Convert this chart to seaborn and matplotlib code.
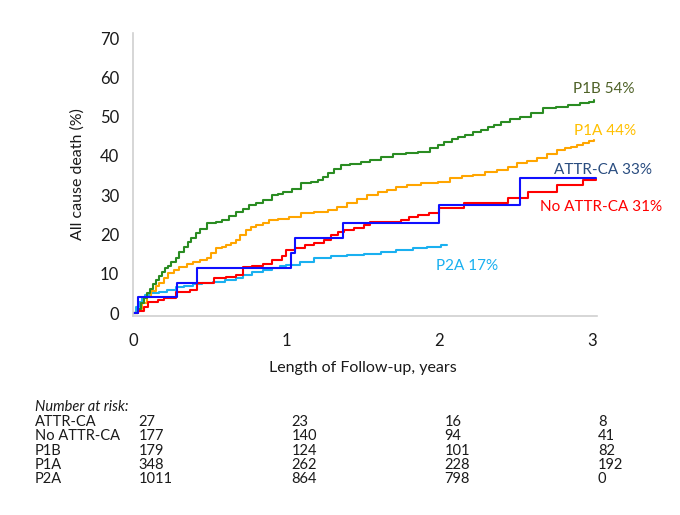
import pandas as pd
import numpy as np
import matplotlib
matplotlib.use("Agg")
import matplotlib.pyplot as plt
import matplotlib.transforms as mtransforms
import seaborn as sns

# cumulative all cause death (%), step times in years
p1b_t = [0, 0.03, 0.05, 0.07, 0.09, 0.11, 0.13, 0.15, 0.17, 0.19, 0.21, 0.23, 0.25, 0.28, 0.30, 0.33,
         0.36, 0.38, 0.41, 0.44, 0.48, 0.54, 0.58, 0.63, 0.67, 0.72, 0.76, 0.80, 0.85, 0.91, 0.95, 0.98,
         1.04, 1.10, 1.16, 1.21, 1.24, 1.27, 1.31, 1.36, 1.42, 1.49, 1.55, 1.62, 1.70, 1.78, 1.86, 1.94,
         1.99, 2.03, 2.08, 2.12, 2.17, 2.22, 2.27, 2.32, 2.36, 2.40, 2.46, 2.53, 2.60, 2.68, 2.76, 2.84,
         2.92, 2.98, 3.01]
p1b_v = [0, 1.0, 2.5, 3.8, 5.0, 6.2, 7.4, 8.4, 9.5, 10.5, 11.5, 12.0, 13.0, 14.0, 15.5, 16.8,
         18.0, 19.2, 20.3, 21.5, 22.9, 23.2, 23.8, 24.8, 25.7, 26.6, 27.5, 28.1, 28.8, 30.0, 30.4, 30.8,
         31.5, 33.0, 33.4, 33.8, 34.7, 35.6, 36.6, 37.7, 38.0, 38.4, 39.0, 39.7, 40.5, 40.8, 41.0, 42.0,
         42.8, 43.5, 44.2, 44.8, 45.4, 46.0, 46.6, 47.3, 48.0, 48.6, 49.3, 49.9, 51.0, 52.2, 52.5, 52.9,
         53.4, 53.8, 54.2]

p1a_t = [0, 0.03, 0.06, 0.09, 0.12, 0.15, 0.17, 0.20, 0.23, 0.27, 0.30, 0.35, 0.39, 0.44, 0.48, 0.51,
         0.54, 0.58, 0.61, 0.64, 0.67, 0.70, 0.74, 0.77, 0.80, 0.85, 0.89, 0.95, 1.02, 1.10, 1.18, 1.27,
         1.33, 1.40, 1.46, 1.53, 1.60, 1.66, 1.72, 1.79, 1.88, 1.99, 2.07, 2.15, 2.22, 2.30, 2.38, 2.45,
         2.51, 2.57, 2.64, 2.70, 2.77, 2.82, 2.86, 2.90, 2.94, 2.98, 3.01]
p1a_v = [0, 1.0, 2.5, 4.0, 5.5, 6.8, 7.6, 9.0, 10.2, 11.0, 11.7, 12.4, 13.0, 13.6, 14.0, 15.2,
         16.5, 16.9, 17.3, 17.9, 18.6, 19.8, 21.1, 21.8, 22.4, 23.0, 23.7, 24.0, 24.5, 25.4, 25.8, 26.2,
         27.0, 28.0, 29.0, 30.0, 30.7, 31.3, 32.0, 32.6, 33.0, 33.3, 34.4, 34.8, 35.1, 35.8, 36.4, 37.3,
         38.2, 38.8, 39.4, 40.5, 41.5, 41.9, 42.2, 42.8, 43.3, 43.7, 44.0]

attr_t = [0, 0.03, 0.29, 0.42, 1.03, 1.06, 1.37, 2.00, 2.53, 3.02]
attr_v = [0, 4.1, 7.6, 11.5, 15.3, 19.1, 22.9, 27.5, 34.3, 34.3]

noattr_t = [0, 0.03, 0.07, 0.10, 0.16, 0.20, 0.28, 0.37, 0.42, 0.53, 0.61, 0.67, 0.72, 0.78, 0.85,
            0.91, 0.97, 1.00, 1.06, 1.12, 1.18, 1.25, 1.29, 1.34, 1.38, 1.44, 1.51, 1.55, 1.75, 1.80,
            1.86, 1.93, 2.00, 2.16, 2.45, 2.58, 2.77, 2.94, 3.02]
noattr_v = [0, 0.5, 1.5, 2.8, 3.3, 3.8, 5.3, 5.8, 7.6, 8.9, 9.2, 9.7, 11.7, 12.0, 12.6,
            13.5, 14.5, 16.0, 16.5, 17.3, 17.8, 18.6, 19.8, 20.6, 21.1, 21.6, 22.4, 23.2, 23.7, 24.4,
            24.9, 25.4, 26.7, 28.0, 29.3, 30.8, 32.6, 33.8, 34.0]

p2a_t = [0, 0.02, 0.04, 0.06, 0.08, 0.12, 0.17, 0.22, 0.28, 0.33, 0.39, 0.45, 0.52, 0.60, 0.67, 0.72,
         0.78, 0.85, 0.91, 0.96, 1.00, 1.09, 1.18, 1.29, 1.40, 1.51, 1.62, 1.72, 1.83, 1.92, 2.01, 2.05]
p2a_v = [0, 1.5, 2.8, 3.8, 4.6, 5.0, 5.3, 5.9, 6.6, 7.0, 7.4, 7.6, 7.9, 8.4, 8.9, 9.6,
         10.4, 11.0, 11.5, 11.9, 12.2, 13.1, 14.0, 14.4, 14.8, 15.1, 15.5, 16.0, 16.5, 16.9, 17.2, 17.3]

groups = ["ATTR-CA", "No ATTR-CA", "P1B", "P1A", "P2A"]
end_labels = ["ATTR-CA 33%", "No ATTR-CA 31%", "P1B 54%", "P1A 44%", "P2A 17%"]
risk_times = [0, 1, 2, 3]
risk_counts = {
    "ATTR-CA": [27, 23, 16, 8],
    "No ATTR-CA": [177, 140, 94, 41],
    "P1B": [179, 124, 101, 82],
    "P1A": [348, 262, 228, 192],
    "P2A": [1011, 864, 798, 0],
}

line_colors = {"ATTR-CA": "#1010ff", "No ATTR-CA": "#ff0000", "P1B": "#2a8c22",
               "P1A": "#ffa500", "P2A": "#1ab0f0"}
text_colors = {"ATTR-CA": "#2a4d80", "No ATTR-CA": "#ff0000", "P1B": "#4f6228",
               "P1A": "#ffc000", "P2A": "#1ab0f0"}
label_pos = {"ATTR-CA": (2.75, 36.4), "No ATTR-CA": (2.66, 27.0), "P1B": (2.87, 57.0),
             "P1A": (2.88, 46.3), "P2A": (1.98, 12.0)}

curves = {"ATTR-CA": (attr_t, attr_v), "No ATTR-CA": (noattr_t, noattr_v),
          "P1B": (p1b_t, p1b_v), "P1A": (p1a_t, p1a_v), "P2A": (p2a_t, p2a_v)}
df = pd.concat([pd.DataFrame({"t": t, "v": v, "group": g}) for g, (t, v) in curves.items()],
               ignore_index=True)

sns.set_theme(style="white")
plt.rcParams["font.family"] = ["Lato", "DejaVu Sans"]

fig = plt.figure(figsize=(6.8, 5.15), dpi=100)
ax = fig.add_axes([0.1956, 0.3864, 0.6824, 0.5495])

for g in ["P2A", "P1A", "P1B", "No ATTR-CA", "ATTR-CA"]:
    sns.lineplot(data=df[df.group == g], x="t", y="v", color=line_colors[g], lw=1.5,
                 drawstyle="steps-post", estimator=None, sort=False, ax=ax)

for g, lab in zip(groups, end_labels):
    x, y = label_pos[g]
    ax.text(x, y, lab, color=text_colors[g], fontsize=11, va="center", ha="left")

ax.set_xlim(0, 3.03)
ax.set_ylim(-0.76, 71.3)
ax.set_xticks([0, 1, 2, 3])
ax.set_yticks(range(0, 71, 10))
ax.tick_params(axis="both", length=0, labelsize=12, colors="#1a1a1a")
ax.tick_params(axis="x", pad=12)
ax.tick_params(axis="y", pad=10)
sns.despine(ax=ax)
for s in ["left", "bottom"]:
    ax.spines[s].set_color("#d0d0d0")
    ax.spines[s].set_linewidth(1.2)

ax.set_xlabel("Length of Follow-up, years", fontsize=11.5, color="#1a1a1a")
ax.set_ylabel("All cause death (%)", fontsize=11.5, color="#1a1a1a")
ax.xaxis.set_label_coords(0.495, -0.16)
ax.yaxis.set_label_coords(-0.105, 0.5)

# number at risk table
trans = mtransforms.blended_transform_factory(ax.transData, fig.transFigure)
fig.text(35 / 680, 1 - 407 / 515, "Number at risk:", fontsize=10.5, style="italic",
         va="center", ha="left", color="#1a1a1a")
for i, g in enumerate(groups):
    yy = 1 - (422 + i * 14.3) / 515
    fig.text(35 / 680, yy, g, fontsize=10.5, va="center", ha="left", color="#1a1a1a")
    for t, n in zip(risk_times, risk_counts[g]):
        ax.text(t + 0.035, yy, str(n), transform=trans, fontsize=10.5, va="center",
                ha="left", color="#1a1a1a", clip_on=False)

ax.set_facecolor("white")
fig.savefig("out.png", dpi=100, facecolor="white")
